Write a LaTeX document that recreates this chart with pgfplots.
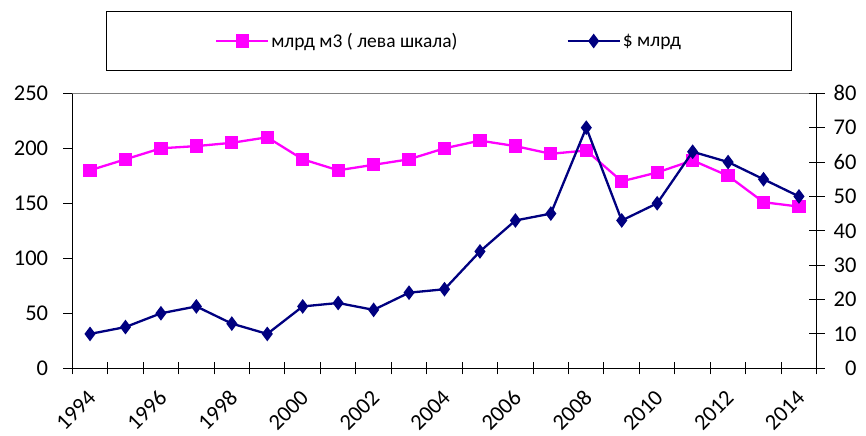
\documentclass[border=0pt]{standalone}
\usepackage{pgfplots}
\pgfplotsset{compat=1.18}
\usepackage{fontspec}
\setmainfont{Carlito}
\definecolor{pinkc}{HTML}{FF00FF}
\definecolor{navyc}{HTML}{000080}
\begin{document}
\begin{tikzpicture}
\useasboundingbox (-72.3bp,-67.7bp) rectangle (793.7bp,368.3bp);
\begin{axis}[
  at={(0,0)}, anchor=south west, scale only axis,
  width=744.4bp, height=275bp,
  xmin=1993.5, xmax=2014.5, ymin=0, ymax=250,
  axis x line*=bottom, axis y line*=left,
  axis line style={-, black, line width=1.3bp},
  xtick={1994,1996,1998,2000,2002,2004,2006,2008,2010,2012,2014},
  xticklabels={1994,1996,1998,2000,2002,2004,2006,2008,2010,2012,2014},
  minor xtick={1993.5,1994.5,...,2014.5},
  major x tick style={draw=none},
  minor x tick style={black, line width=1bp},
  minor tick length=12bp,
  xtick align=center,
  ytick={0,50,...,250}, ytick align=outside,
  major tick length=9bp,
  tick style={black, line width=1bp},
  tick label style={font=\fontsize{22.5bp}{26bp}\selectfont},
  /pgf/number format/assume math mode=true,
  /pgf/number format/1000 sep={},
  xticklabel style={yshift=-21bp, xshift=2bp, rotate=45, anchor=east, inner sep=0pt},
  yticklabel style={anchor=east, inner sep=0pt, xshift=-15bp},
  legend columns=2,
  legend cell align=left,
  legend image code/.code={\draw[mark repeat=2,mark phase=2,#1] plot coordinates {(0bp,0bp)(26bp,0bp)(52bp,0bp)};},
  legend style={at={(0.506,1.19)}, anchor=center, draw=black, line width=1bp,
    inner xsep=109bp, inner ysep=20bp,
    font=\fontsize{19.5bp}{23bp}\selectfont,
    /tikz/every even column/.append style={column sep=107bp}},
]
\addplot[pinkc, line width=2.3bp, mark=square*, mark size=5.5bp, mark options={solid}] coordinates {
(1994,180) (1995,190) (1996,200) (1997,202) (1998,205) (1999,210) (2000,190)
(2001,180) (2002,185) (2003,190) (2004,200) (2005,207) (2006,202) (2007,195)
(2008,198) (2009,170) (2010,178) (2011,189) (2012,175) (2013,151) (2014,147)};
\addlegendentry{млрд м3 ( лева шкала)}
\addlegendimage{navyc, line width=2.3bp, mark=diamond*, mark size=5.5bp}
\addlegendentry{\$ млрд}
\draw[gray, line width=1.3bp] (rel axis cs:0,1) -- (rel axis cs:1,1);
\end{axis}
\begin{axis}[
  at={(0,0)}, anchor=south west, scale only axis,
  width=744.4bp, height=275bp,
  xmin=1993.5, xmax=2014.5, ymin=0, ymax=80,
  axis x line=none, axis y line*=right,
  axis line style={-, black, line width=1.3bp},
  ytick={0,10,...,80}, ytick align=center,
  major tick length=16bp,
  tick style={black, line width=1bp},
  tick label style={font=\fontsize{22.5bp}{26bp}\selectfont},
  /pgf/number format/assume math mode=true,
  yticklabel style={anchor=east, inner sep=0pt, xshift=32bp},
]
\addplot[navyc, line width=2.3bp, mark=diamond*, mark size=5.5bp, mark options={solid}] coordinates {
(1994,10) (1995,12) (1996,16) (1997,18) (1998,13) (1999,10) (2000,18)
(2001,19) (2002,17) (2003,22) (2004,23) (2005,34) (2006,43) (2007,45)
(2008,70) (2009,43) (2010,48) (2011,63) (2012,60) (2013,55) (2014,50)};
\end{axis}
\end{tikzpicture}
\end{document}
